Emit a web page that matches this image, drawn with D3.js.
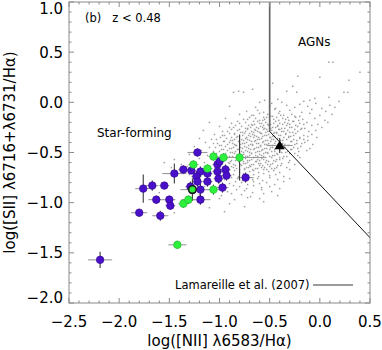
<!DOCTYPE html>
<html>
<head>
<meta charset="utf-8">
<script src="https://cdn.jsdelivr.net/npm/d3@7"></script>
<style>
  html, body { margin: 0; padding: 0; background: #fff; }
  svg { display: block; font-family: "DejaVu Sans", sans-serif; }
</style>
</head>
<body>
<div id="app"></div>
<script>
// Gray comparison sample, [log NII/Ha, log SII/Ha]
const cloud = [
  [0.09,0.40],[0.13,0.40],[0.40,0.30],[-0.22,0.26],[0.00,0.25],[0.29,0.22],[-0.47,0.19],[-0.27,0.16],[-0.67,0.13],[-0.81,0.11],[-0.33,0.11],[-0.86,0.10],[-0.76,0.10],[-0.23,0.10],[0.24,0.10],[0.28,0.10],[0.09,0.05],[-0.05,0.04],[-0.55,0.02],[-0.42,0.03],[-0.16,0.01],[-0.10,0.02],[0.19,0.01],[-0.90,-0.04],[-0.60,0.00],[-0.48,-0.01],[-0.38,0.00],[-0.20,-0.02],[-0.04,-0.01],[0.10,-0.03],
  [-0.64,-0.05],[-0.50,-0.04],[-0.44,-0.06],[-0.33,-0.03],[-0.25,-0.05],[-0.12,-0.04],[0.02,-0.06],[0.15,-0.05],
  [-0.73,-0.09],[-0.62,-0.08],[-0.56,-0.10],[-0.45,-0.07],[-0.40,-0.09],[-0.30,-0.08],[-0.18,-0.10],[-0.08,-0.07],[0.06,-0.09],
  [-0.80,-0.12],[-0.68,-0.13],[-0.60,-0.11],[-0.52,-0.12],[-0.47,-0.14],[-0.41,-0.11],[-0.36,-0.13],[-0.28,-0.12],[-0.20,-0.14],[-0.10,-0.11],[0.00,-0.13],[0.12,-0.12],
  [-0.94,-0.16],[-0.76,-0.17],[-0.70,-0.15],[-0.64,-0.16],[-0.57,-0.18],[-0.53,-0.15],[-0.46,-0.17],[-0.43,-0.15],[-0.37,-0.16],[-0.31,-0.18],[-0.24,-0.15],[-0.17,-0.17],[-0.05,-0.16],[0.05,-0.18],
  [-1.10,-0.20],[-0.88,-0.21],[-0.82,-0.19],[-0.74,-0.20],[-0.68,-0.22],[-0.62,-0.19],[-0.58,-0.21],[-0.54,-0.20],[-0.49,-0.22],[-0.44,-0.19],[-0.40,-0.21],[-0.35,-0.20],[-0.30,-0.22],[-0.26,-0.19],[-0.20,-0.21],[-0.13,-0.20],[-0.02,-0.22],[0.08,-0.20],
  [-1.00,-0.24],[-0.90,-0.25],[-0.84,-0.23],[-0.78,-0.24],[-0.72,-0.26],[-0.67,-0.23],[-0.63,-0.25],[-0.59,-0.24],[-0.55,-0.26],[-0.51,-0.23],[-0.47,-0.25],[-0.42,-0.24],[-0.38,-0.26],[-0.33,-0.23],[-0.28,-0.25],[-0.22,-0.24],[-0.15,-0.26],[-0.08,-0.23],[0.02,-0.25],
  [-1.16,-0.28],[-0.97,-0.29],[-0.88,-0.27],[-0.82,-0.28],[-0.77,-0.30],[-0.72,-0.27],[-0.68,-0.29],[-0.64,-0.28],[-0.60,-0.30],[-0.56,-0.27],[-0.52,-0.29],[-0.48,-0.28],[-0.45,-0.30],[-0.41,-0.27],[-0.36,-0.29],[-0.32,-0.28],[-0.27,-0.30],[-0.19,-0.27],[-0.11,-0.29],[-0.04,-0.28],
  [-1.05,-0.32],[-0.95,-0.33],[-0.90,-0.31],[-0.85,-0.32],[-0.80,-0.34],[-0.75,-0.31],[-0.71,-0.33],[-0.67,-0.32],[-0.63,-0.34],[-0.59,-0.31],[-0.55,-0.33],[-0.51,-0.32],[-0.47,-0.34],[-0.43,-0.31],[-0.39,-0.33],[-0.34,-0.32],[-0.29,-0.34],[-0.24,-0.31],[-0.16,-0.33],[-0.08,-0.32],
  [-1.20,-0.36],[-1.08,-0.37],[-0.99,-0.35],[-0.93,-0.36],[-0.87,-0.38],[-0.83,-0.35],[-0.78,-0.37],[-0.74,-0.36],[-0.70,-0.38],[-0.66,-0.35],[-0.62,-0.37],[-0.58,-0.36],[-0.54,-0.38],[-0.50,-0.35],[-0.46,-0.37],[-0.42,-0.36],[-0.37,-0.38],[-0.31,-0.35],[-0.26,-0.37],[-0.20,-0.36],[-0.12,-0.38],[-0.03,-0.35],
  [-1.14,-0.40],[-1.02,-0.41],[-0.96,-0.39],[-0.90,-0.40],[-0.85,-0.42],[-0.81,-0.39],[-0.77,-0.41],[-0.73,-0.40],[-0.69,-0.42],[-0.65,-0.39],[-0.61,-0.41],[-0.57,-0.40],[-0.53,-0.42],[-0.49,-0.39],[-0.45,-0.41],[-0.40,-0.40],[-0.35,-0.42],[-0.29,-0.39],[-0.23,-0.41],[-0.15,-0.40],[-0.07,-0.42],
  [-1.25,-0.44],[-1.10,-0.45],[-1.00,-0.43],[-0.94,-0.44],[-0.88,-0.46],[-0.84,-0.43],[-0.79,-0.45],[-0.75,-0.44],[-0.71,-0.46],[-0.67,-0.43],[-0.63,-0.45],[-0.59,-0.44],[-0.55,-0.46],[-0.51,-0.43],[-0.47,-0.45],[-0.43,-0.44],[-0.38,-0.46],[-0.32,-0.43],[-0.26,-0.45],[-0.19,-0.44],[-0.10,-0.46],
  [-1.18,-0.48],[-1.06,-0.49],[-0.98,-0.47],[-0.92,-0.48],[-0.87,-0.50],[-0.82,-0.47],[-0.78,-0.49],[-0.74,-0.48],[-0.70,-0.50],[-0.66,-0.47],[-0.62,-0.49],[-0.58,-0.48],[-0.54,-0.50],[-0.50,-0.47],[-0.45,-0.49],[-0.40,-0.48],[-0.34,-0.50],[-0.28,-0.47],[-0.21,-0.49],[-0.13,-0.48],
  [-1.30,-0.52],[-1.12,-0.53],[-1.03,-0.51],[-0.96,-0.52],[-0.90,-0.54],[-0.85,-0.51],[-0.80,-0.53],[-0.76,-0.52],[-0.72,-0.54],[-0.68,-0.51],[-0.64,-0.53],[-0.60,-0.52],[-0.56,-0.54],[-0.52,-0.51],[-0.47,-0.53],[-0.42,-0.52],[-0.36,-0.54],[-0.30,-0.51],[-0.22,-0.53],
  [-1.45,-0.57],[-1.20,-0.56],[-1.08,-0.57],[-1.00,-0.55],[-0.93,-0.56],[-0.88,-0.58],[-0.83,-0.55],[-0.78,-0.57],[-0.74,-0.56],[-0.70,-0.58],[-0.66,-0.55],[-0.62,-0.57],[-0.58,-0.56],[-0.53,-0.58],[-0.48,-0.55],[-0.43,-0.57],[-0.37,-0.56],[-0.30,-0.58],[-0.20,-0.55],
  [-1.55,-0.60],[-1.38,-0.62],[-1.15,-0.60],[-1.05,-0.61],[-0.97,-0.59],[-0.91,-0.60],[-0.86,-0.62],[-0.81,-0.59],[-0.76,-0.61],[-0.72,-0.60],[-0.68,-0.62],[-0.63,-0.59],[-0.59,-0.61],[-0.54,-0.60],[-0.49,-0.62],[-0.44,-0.59],[-0.38,-0.61],[-0.31,-0.60],[-0.25,-0.62],
  [-1.48,-0.65],[-1.32,-0.64],[-1.10,-0.64],[-1.00,-0.65],[-0.94,-0.63],[-0.88,-0.64],[-0.83,-0.66],[-0.78,-0.63],[-0.73,-0.65],[-0.69,-0.64],[-0.64,-0.66],[-0.60,-0.63],[-0.55,-0.65],[-0.50,-0.64],[-0.45,-0.66],[-0.39,-0.63],[-0.33,-0.65],
  [-1.42,-0.70],[-1.05,-0.68],[-0.97,-0.69],[-0.90,-0.67],[-0.85,-0.68],[-0.80,-0.70],[-0.75,-0.67],[-0.70,-0.69],[-0.66,-0.68],[-0.61,-0.70],[-0.56,-0.67],[-0.51,-0.69],[-0.46,-0.68],[-0.40,-0.70],[-0.30,-0.67],
  [-1.30,-0.72],[-0.99,-0.73],[-0.92,-0.71],[-0.86,-0.72],[-0.81,-0.74],[-0.76,-0.71],[-0.71,-0.73],[-0.66,-0.72],[-0.61,-0.74],[-0.56,-0.71],[-0.50,-0.73],[-0.44,-0.72],[-0.36,-0.74],
  [-1.10,-0.76],[-0.95,-0.77],[-0.88,-0.75],[-0.82,-0.76],[-0.77,-0.78],[-0.72,-0.75],[-0.67,-0.77],[-0.62,-0.76],[-0.57,-0.78],[-0.50,-0.75],[-0.42,-0.77],[-0.30,-0.76],
  [-1.00,-0.80],[-0.90,-0.81],[-0.84,-0.79],[-0.78,-0.80],[-0.72,-0.82],[-0.66,-0.79],[-0.60,-0.81],[-0.53,-0.80],[-0.45,-0.82],[-0.36,-0.79],
  [-1.15,-0.84],[-0.95,-0.85],[-0.86,-0.83],[-0.80,-0.84],[-0.73,-0.86],[-0.66,-0.83],[-0.58,-0.85],[-0.50,-0.84],[-0.40,-0.86],
  [-1.60,-0.90],[-1.05,-0.88],[-0.92,-0.89],[-0.83,-0.87],[-0.75,-0.88],[-0.67,-0.90],[-0.58,-0.87],[-0.48,-0.89],
  [-1.20,-0.92],[-0.98,-0.93],[-0.88,-0.91],[-0.78,-0.92],[-0.69,-0.94],[-0.56,-0.91],[-0.42,-0.93],
  [-1.00,-0.96],[-0.85,-0.97],[-0.72,-0.95],[-0.60,-0.96],
  [-1.30,-1.00],[-0.90,-1.01],[-0.56,-0.99],
  [-1.10,-1.05],[-0.75,-1.04],
  [-1.45,-1.10],[-0.95,-1.09]
];

// denser core of the same sample
const cloudCore = [
  [-0.66,-0.13],[-0.56,-0.15],[-0.49,-0.14],[-0.39,-0.13],[-0.32,-0.15],[-0.25,-0.14],
  [-0.72,-0.17],[-0.66,-0.19],[-0.60,-0.18],[-0.55,-0.17],[-0.50,-0.19],[-0.41,-0.18],[-0.34,-0.17],[-0.27,-0.19],[-0.21,-0.18],
  [-0.80,-0.21],[-0.71,-0.23],[-0.65,-0.22],[-0.60,-0.21],[-0.56,-0.23],[-0.52,-0.22],[-0.46,-0.21],[-0.42,-0.23],[-0.37,-0.22],[-0.32,-0.21],[-0.24,-0.23],[-0.16,-0.22],
  [-0.86,-0.25],[-0.80,-0.27],[-0.74,-0.26],[-0.69,-0.25],[-0.65,-0.27],[-0.61,-0.26],[-0.57,-0.25],[-0.53,-0.27],[-0.49,-0.26],[-0.44,-0.25],[-0.40,-0.27],[-0.35,-0.26],[-0.30,-0.25],[-0.25,-0.27],[-0.18,-0.26],
  [-0.92,-0.29],[-0.85,-0.31],[-0.79,-0.30],[-0.74,-0.29],[-0.70,-0.31],[-0.66,-0.30],[-0.62,-0.29],[-0.58,-0.31],[-0.54,-0.30],[-0.50,-0.29],[-0.46,-0.31],[-0.43,-0.30],[-0.38,-0.29],[-0.34,-0.31],[-0.30,-0.30],[-0.22,-0.29],
  [-0.97,-0.33],[-0.88,-0.35],[-0.82,-0.34],[-0.77,-0.33],[-0.73,-0.35],[-0.69,-0.34],[-0.65,-0.33],[-0.61,-0.35],[-0.57,-0.34],[-0.53,-0.33],[-0.49,-0.35],[-0.45,-0.34],[-0.41,-0.33],[-0.36,-0.35],[-0.31,-0.34],[-0.26,-0.33],[-0.20,-0.35],[-0.12,-0.34],
  [-1.03,-0.37],[-0.95,-0.39],[-0.89,-0.38],[-0.85,-0.37],[-0.80,-0.39],[-0.76,-0.38],[-0.72,-0.37],[-0.68,-0.39],[-0.64,-0.38],[-0.60,-0.37],[-0.56,-0.39],[-0.52,-0.38],[-0.48,-0.37],[-0.44,-0.39],[-0.39,-0.38],[-0.33,-0.37],[-0.28,-0.39],[-0.23,-0.38],[-0.16,-0.37],
  [-1.06,-0.41],[-0.98,-0.43],[-0.92,-0.42],[-0.87,-0.41],[-0.83,-0.43],[-0.79,-0.42],[-0.75,-0.41],[-0.71,-0.43],[-0.67,-0.42],[-0.63,-0.41],[-0.59,-0.43],[-0.55,-0.42],[-0.51,-0.41],[-0.47,-0.43],[-0.42,-0.42],[-0.37,-0.41],[-0.31,-0.43],[-0.25,-0.42],[-0.18,-0.41],
  [-1.04,-0.45],[-0.96,-0.47],[-0.90,-0.46],[-0.86,-0.45],[-0.81,-0.47],[-0.77,-0.46],[-0.73,-0.45],[-0.69,-0.47],[-0.65,-0.46],[-0.61,-0.45],[-0.57,-0.47],[-0.53,-0.46],[-0.49,-0.45],[-0.45,-0.47],[-0.40,-0.46],[-0.35,-0.45],[-0.29,-0.47],[-0.22,-0.46],
  [-1.00,-0.49],[-0.94,-0.51],[-0.89,-0.50],[-0.84,-0.49],[-0.80,-0.51],[-0.76,-0.50],[-0.72,-0.49],[-0.68,-0.51],[-0.64,-0.50],[-0.60,-0.49],[-0.56,-0.51],[-0.52,-0.50],[-0.48,-0.49],[-0.43,-0.51],[-0.38,-0.50],[-0.32,-0.49],[-0.25,-0.51],
  [-0.98,-0.53],[-0.92,-0.55],[-0.87,-0.54],[-0.82,-0.53],[-0.78,-0.55],[-0.74,-0.54],[-0.70,-0.53],[-0.66,-0.55],[-0.62,-0.54],[-0.58,-0.53],[-0.54,-0.55],[-0.50,-0.54],[-0.45,-0.53],[-0.40,-0.55],[-0.33,-0.54],
  [-0.95,-0.57],[-0.89,-0.59],[-0.84,-0.58],[-0.80,-0.57],[-0.76,-0.59],[-0.72,-0.58],[-0.68,-0.57],[-0.64,-0.59],[-0.60,-0.58],[-0.56,-0.57],[-0.51,-0.59],[-0.46,-0.58],[-0.40,-0.57],
  [-0.90,-0.61],[-0.84,-0.63],[-0.79,-0.62],[-0.74,-0.61],[-0.70,-0.63],[-0.66,-0.62],[-0.61,-0.61],[-0.57,-0.63],[-0.52,-0.62],[-0.47,-0.61],[-0.42,-0.63],
  [-0.86,-0.65],[-0.80,-0.67],[-0.75,-0.66],[-0.71,-0.65],[-0.67,-0.67],[-0.62,-0.66],[-0.58,-0.65],[-0.53,-0.67],[-0.48,-0.66],[-0.43,-0.65]
];

// Purple sample: x, y, x error, y error
const purpleX  = [-2.19,-1.80,-1.59,-1.76,-1.67,-1.55,-1.63,-1.50,-1.49,-1.45,-1.36,-1.28,-1.22,-1.19,-1.23,-1.22,-1.19,-1.19,-1.12,-1.12,-1.02,-1.00,-0.94,-0.93,-1.02,-1.01,-0.97,-0.74,-1.29];
const purpleY  = [-1.57,-1.10,-1.13,-0.86,-0.83,-0.83,-0.97,-0.97,-1.03,-0.71,-0.67,-0.68,-0.50,-0.69,-0.74,-0.79,-0.87,-0.97,-0.71,-0.79,-0.62,-0.59,-0.67,-0.73,-0.69,-0.76,-0.85,-0.75,-0.84];
const purpleXe = [0.12,0.08,0.08,0.08,0.06,0.05,0.08,0.06,0.05,0.12,0.05,0.04,0.10,0.05,0.05,0.05,0.10,0.10,0.05,0.05,0.05,0.05,0.05,0.05,0.05,0.05,0.06,0.08,0.05];
const purpleYe = [0.08,0.04,0.05,0.14,0.05,0.03,0.04,0.04,0.04,0.10,0.04,0.03,0.04,0.05,0.05,0.05,0.10,0.05,0.05,0.05,0.04,0.04,0.05,0.05,0.04,0.05,0.05,0.05,0.05];

// Green sample
const greenX  = [-1.42,-1.36,-1.31,-1.26,-1.12,-1.06,-1.06,-0.96,-0.80,-1.27];
const greenY  = [-1.42,-1.01,-0.97,-0.62,-0.66,-0.87,-0.54,-0.55,-0.55,-0.87];
const greenXe = [0.09,0.05,0.07,0.05,0.05,0.06,0.05,0.05,0.25,0.12];
const greenYe = [0.04,0.04,0.04,0.04,0.04,0.05,0.04,0.04,0.23,0.11];
const ringed  = [false,false,false,false,false,false,false,false,false,true];

// Stacked point (triangle)
const stackX = -0.40, stackY = -0.43, stackXe = 0.13, stackYe = 0.075;

// Lamareille et al. (2007) demarcation
const lamVertical = [[-0.5, 1.0], [-0.5, -0.29]];
const lamDiagonal = [[-0.5, -0.29], [0.52, -1.37]];

const xTicks = [-2.5, -2.0, -1.5, -1.0, -0.5, 0.0, 0.5];
const yTicks = [-2.0, -1.5, -1.0, -0.5, 0.0, 0.5, 1.0];

const W = 382, H = 350;
const svg = d3.select("#app").append("svg").attr("width", W).attr("height", H);

const x = d3.scaleLinear().domain([-2.5, 0.5]).range([69, 370]);
const y = d3.scaleLinear().domain([-2.0, 1.0]).range([303, 2]);
const [x0, x1] = x.range(), [y0, y1] = y.range();

const plot = svg.append("g");
plot.append("clipPath").attr("id", "clip")
  .append("rect").attr("x", x0).attr("y", y1).attr("width", x1 - x0).attr("height", y0 - y1);

const inner = plot.append("g").attr("clip-path", "url(#clip)");

// gray cloud
inner.append("g").selectAll("rect").data(cloud.concat(cloudCore)).join("rect")
  .attr("x", d => x(d[0]) - 0.75).attr("y", d => y(d[1]) - 0.75)
  .attr("width", 1.5).attr("height", 1.5)
  .attr("fill", "#a2a2a2");

// demarcation lines
const line = d3.line().x(d => x(d[0])).y(d => y(d[1]));
inner.append("path").attr("d", line(lamVertical)).attr("fill", "none")
  .attr("stroke", "#666").attr("stroke-width", 1.7);
inner.append("path").attr("d", line(lamDiagonal)).attr("fill", "none")
  .attr("stroke", "#111").attr("stroke-width", 1);

// error bars
function errBars(g, xs, ys, xe, ye) {
  g.append("g").selectAll("line").data(xs).join("line")
    .attr("x1", (d, i) => x(d - xe[i])).attr("x2", (d, i) => x(d + xe[i]))
    .attr("y1", (d, i) => y(ys[i])).attr("y2", (d, i) => y(ys[i]))
    .attr("stroke", "#9a9a9a").attr("stroke-width", 1.1);
  g.append("g").selectAll("line").data(xs).join("line")
    .attr("x1", d => x(d)).attr("x2", d => x(d))
    .attr("y1", (d, i) => y(ys[i] - ye[i])).attr("y2", (d, i) => y(ys[i] + ye[i]))
    .attr("stroke", "#3a3a3a").attr("stroke-width", 1.1);
}
errBars(inner, purpleX, purpleY, purpleXe, purpleYe);
errBars(inner, greenX, greenY, greenXe, greenYe);
errBars(inner, [stackX], [stackY], [stackXe], [stackYe]);

// points
inner.append("g").selectAll("circle").data(purpleX).join("circle")
  .attr("cx", d => x(d)).attr("cy", (d, i) => y(purpleY[i])).attr("r", 3.8)
  .attr("fill", "#4a0fc8").attr("stroke", "#33088f").attr("stroke-width", 0.6);
inner.append("g").selectAll("circle").data(greenX).join("circle")
  .attr("cx", d => x(d)).attr("cy", (d, i) => y(greenY[i])).attr("r", 3.8)
  .attr("fill", "#2cf03c")
  .attr("stroke", (d, i) => ringed[i] ? "#1a1a1a" : "#22b830")
  .attr("stroke-width", (d, i) => ringed[i] ? 1.6 : 0.6);

inner.append("path")
  .attr("d", d3.symbol(d3.symbolTriangle, 45)())
  .attr("transform", `translate(${x(stackX)},${y(stackY) + 0.8})`)
  .attr("fill", "#000");

// frame
plot.append("rect").attr("x", x0).attr("y", y1).attr("width", x1 - x0).attr("height", y0 - y1)
  .attr("fill", "none").attr("stroke", "#8a8a8a").attr("stroke-width", 1);

// ticks on all sides, pointing inward
const minorX = d3.range(-25, 6).map(v => v / 10).filter(v => !xTicks.some(t => Math.abs(t - v) < 1e-6));
const minorY = d3.range(-20, 11).map(v => v / 10).filter(v => !yTicks.some(t => Math.abs(t - v) < 1e-6));
const tk = plot.append("g").attr("stroke", "#8a8a8a").attr("stroke-width", 1);
function xt(vals, len) {
  vals.forEach(v => {
    tk.append("line").attr("x1", x(v)).attr("x2", x(v)).attr("y1", y0).attr("y2", y0 - len);
    tk.append("line").attr("x1", x(v)).attr("x2", x(v)).attr("y1", y1).attr("y2", y1 + len);
  });
}
function yt(vals, len) {
  vals.forEach(v => {
    tk.append("line").attr("y1", y(v)).attr("y2", y(v)).attr("x1", x0).attr("x2", x0 + len);
    tk.append("line").attr("y1", y(v)).attr("y2", y(v)).attr("x1", x1).attr("x2", x1 - len);
  });
}
xt(xTicks, 5); xt(minorX, 2.5);
yt(yTicks, 5); yt(minorY, 2.5);

const fmt = d3.format(".1f");
svg.append("g").selectAll("text").data(xTicks).join("text")
  .attr("x", d => x(d)).attr("y", 327)
  .attr("text-anchor", "middle").attr("font-size", 15).attr("fill", "#000")
  .text(d => fmt(d));
// end labels sit a little inside the frame, as in the original
svg.append("g").selectAll("text").data(yTicks).join("text")
  .attr("x", 63)
  .attr("y", d => d === 1.0 ? 13.5 : d === -2.0 ? 303 : y(d) + 5.5)
  .attr("text-anchor", "end").attr("font-size", 15).attr("fill", "#000")
  .text(d => fmt(d));

// axis titles
svg.append("text").attr("x", (x0 + x1) / 2).attr("y", 345.5)
  .attr("text-anchor", "middle").attr("font-size", 15)
  .text("log([NII] λ6583/Hα)");
svg.append("text")
  .attr("transform", `translate(14.5,${(y0 + y1) / 2}) rotate(-90)`)
  .attr("text-anchor", "middle").attr("font-size", 15)
  .text("log([SII] λ6716+λ6731/Hα)");

// annotations
svg.append("text").attr("x", 85).attr("y", 22).attr("font-size", 11.5)
  .attr("xml:space", "preserve").text("(b)   z < 0.48");
svg.append("text").attr("x", 97).attr("y", 137).attr("font-size", 12).text("Star-forming");
svg.append("text").attr("x", 298).attr("y", 46).attr("font-size", 12).text("AGNs");

// legend
svg.append("text").attr("x", 175).attr("y", 289).attr("font-size", 11.5).text("Lamareille et al. (2007)");
svg.append("line").attr("x1", 313).attr("x2", 353).attr("y1", 285).attr("y2", 285)
  .attr("stroke", "#222").attr("stroke-width", 0.9);
</script>
</body>
</html>
